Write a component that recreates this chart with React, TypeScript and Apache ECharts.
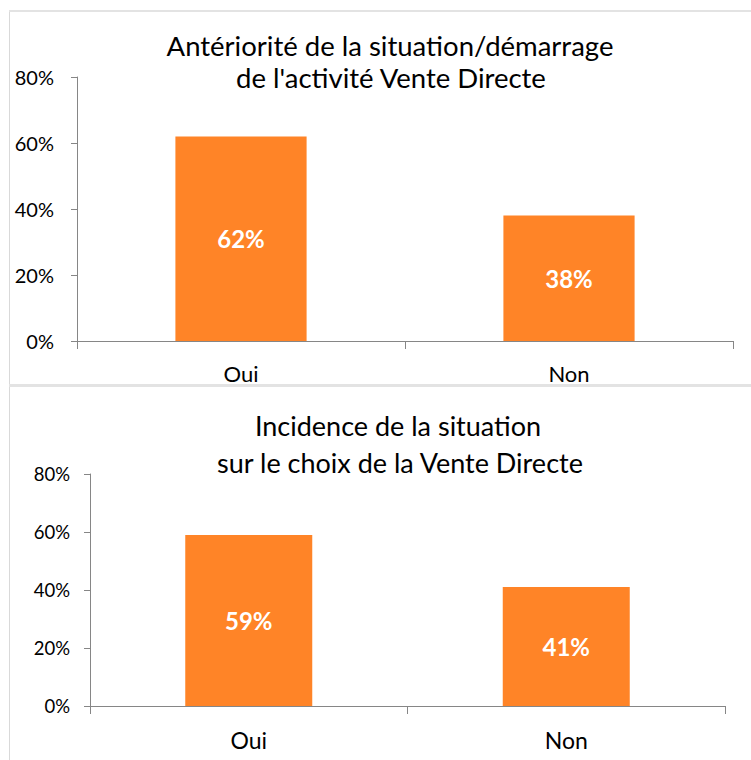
import React, { useEffect, useRef } from "react";
import * as echarts from "echarts";

const categories = ["Oui", "Non"];
const topValues = [62, 38];
const bottomValues = [59, 41];
const topTitle = ["Antériorité de la situation/démarrage", "de l'activité Vente Directe"];
const bottomTitle = ["Incidence de la situation", "sur le choix de la Vente Directe"];
const yMax = 80;
const yInterval = 20;

const FONT = "Lato, 'Open Sans', sans-serif";
const ORANGE = "#FF8427";

function yAxis(gridIndex: number, fontSize: number, margin: number) {
  return {
    type: "value",
    gridIndex,
    min: 0,
    max: yMax,
    interval: yInterval,
    axisLine: { show: true, lineStyle: { color: "#868686", width: 1 } },
    axisTick: { show: true, length: 6, lineStyle: { color: "#868686" } },
    splitLine: { show: false },
    axisLabel: { formatter: "{value}%", fontSize, color: "#000", fontFamily: FONT, margin },
  };
}

function xAxis(gridIndex: number, fontSize: number, margin: number) {
  return {
    type: "category",
    gridIndex,
    data: categories,
    axisLine: { show: true, lineStyle: { color: "#868686", width: 1 } },
    axisTick: { show: true, length: 8, alignWithLabel: false, lineStyle: { color: "#868686" } },
    axisLabel: { fontSize, color: "#000", fontFamily: FONT, margin },
  };
}

function barSeries(idx: number, data: number[]) {
  return {
    type: "bar",
    xAxisIndex: idx,
    yAxisIndex: idx,
    data,
    barCategoryGap: "60%",
    itemStyle: { color: ORANGE },
    label: {
      show: true,
      position: "inside",
      formatter: "{c}%",
      color: "#fff",
      fontWeight: "bold",
      fontSize: 24,
      fontFamily: FONT,
    },
  };
}

function titleText(text: string, x: number, y: number, size: number) {
  return {
    type: "text",
    x,
    y,
    style: {
      text,
      fontSize: size,
      fontFamily: FONT,
      fill: "#000",
      textAlign: "center",
      textVerticalAlign: "middle",
    },
  };
}

export default function App() {
  const ref = useRef<HTMLDivElement>(null);
  useEffect(() => {
    if (!ref.current) return;
    const chart = echarts.init(ref.current, null, { renderer: "svg" });
    chart.setOption({
      animation: false,
      backgroundColor: "#fff",
      grid: [
        { left: 77, top: 77, width: 656, height: 264 },
        { left: 90, top: 474, width: 635, height: 232 },
      ],
      xAxis: [xAxis(0, 22, 21), xAxis(1, 23, 22)],
      yAxis: [yAxis(0, 20, 23), yAxis(1, 18.5, 20)],
      series: [barSeries(0, topValues), barSeries(1, bottomValues)],
      graphic: [
        { type: "line", shape: { x1: 9.5, y1: 10, x2: 9.5, y2: 760 }, style: { stroke: "#d9d9d9", lineWidth: 1 } },
        { type: "rect", shape: { x: 9, y: 10, width: 760, height: 2 }, style: { fill: "#e3e3e3" } },
        { type: "rect", shape: { x: 9, y: 384, width: 760, height: 3 }, style: { fill: "#e3e3e3" } },
        titleText(topTitle[0], 390, 45, 27.5),
        titleText(topTitle[1], 391, 77, 27.5),
        titleText(bottomTitle[0], 398, 425, 27),
        titleText(bottomTitle[1], 400, 462, 27),
      ],
    });
    return () => chart.dispose();
  }, []);
  return (
    <div
      ref={ref}
      style={{ position: "fixed", left: 0, top: 0, width: 751, height: 760 }}
    />
  );
}
